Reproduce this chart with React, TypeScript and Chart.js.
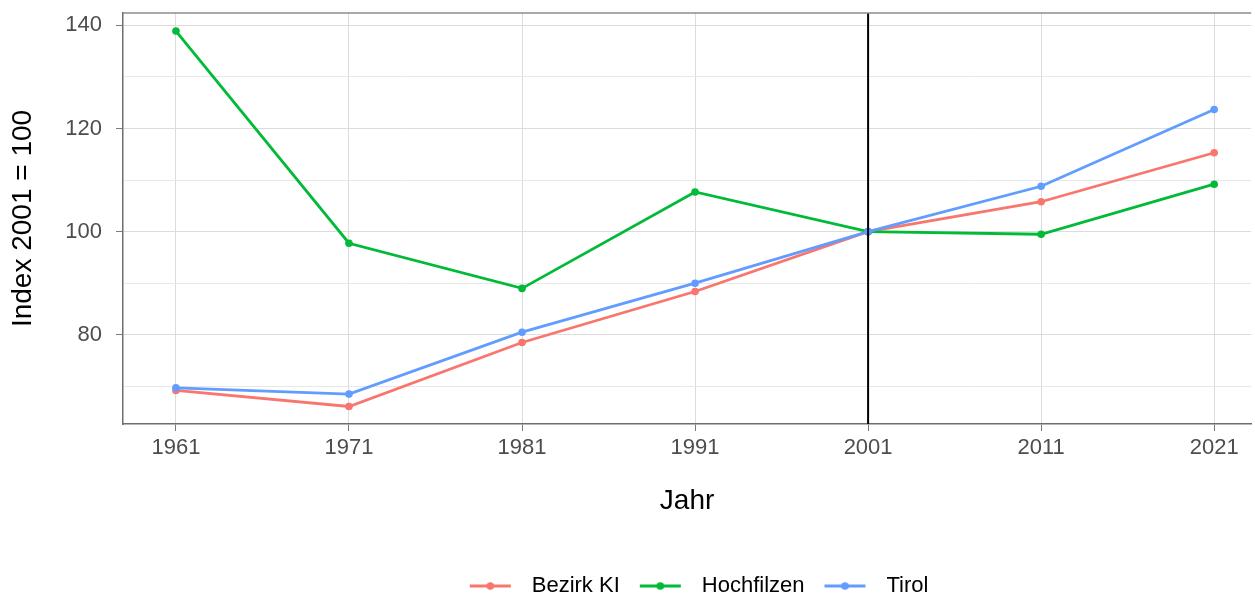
import React, { useEffect, useRef } from "react";
import { Chart, registerables } from "chart.js";

Chart.register(...registerables);

const YEARS = [1961, 1971, 1981, 1991, 2001, 2011, 2021];
const BEZIRK_KI = [69.2, 66.1, 78.5, 88.4, 100, 105.8, 115.3];
const HOCHFILZEN = [138.9, 97.75, 89.0, 107.7, 100, 99.5, 109.2];
const TIROL = [69.7, 68.5, 80.5, 90.0, 100, 108.8, 123.7];
const SERIES_NAMES = ["Bezirk KI", "Hochfilzen", "Tirol"];
const SERIES_COLORS = ["#F8766D", "#00BA38", "#619CFF"];
const Y_TICKS = [70, 80, 90, 100, 110, 120, 130, 140];
const REFERENCE_YEAR = 2001;
const Y_MIN = 62.7;
const Y_MAX = 142.4;
const X_MIN = 1957.94;
const X_MAX = 2023.14;

const FONT = "'Liberation Sans', Arial, sans-serif";

function legendImage(color: string): HTMLCanvasElement {
  const c = document.createElement("canvas");
  c.width = 71;
  c.height = 12;
  const g = c.getContext("2d")!;
  g.strokeStyle = color;
  g.lineWidth = 2.8;
  g.beginPath();
  g.moveTo(20, 6);
  g.lineTo(61, 6);
  g.stroke();
  g.fillStyle = color;
  g.beginPath();
  g.arc(40.5, 6, 3.8, 0, Math.PI * 2);
  g.fill();
  return c;
}

const topBorder = {
  id: "topBorder",
  afterDatasetsDraw(chart: any) {
    const { ctx, chartArea } = chart;
    ctx.save();
    ctx.strokeStyle = "#8C8C8C";
    ctx.lineWidth = 1.5;
    ctx.beginPath();
    ctx.moveTo(chartArea.left, chartArea.top);
    ctx.lineTo(chartArea.right, chartArea.top);
    ctx.stroke();
    ctx.restore();
  },
};

const legendShift = {
  id: "legendShift",
  afterLayout(chart: any) {
    if (chart.legend) {
      chart.legend.left += 2;
      chart.legend.right += 2;
    }
  },
};

export default function App() {
  const ref = useRef<HTMLCanvasElement | null>(null);

  useEffect(() => {
    document.body.style.margin = "0";
    const series = [BEZIRK_KI, HOCHFILZEN, TIROL];
    const datasets: any[] = series.map((vals, i) => ({
      label: SERIES_NAMES[i],
      data: YEARS.map((y, j) => ({ x: y, y: vals[j] })),
      borderColor: SERIES_COLORS[i],
      backgroundColor: SERIES_COLORS[i],
      borderWidth: 2.8,
      pointRadius: 3.8,
      pointBorderWidth: 0,
      pointHoverRadius: 3.8,
      order: 3 - i,
      tension: 0,
    }));
    datasets.push({
      label: "ref",
      data: [
        { x: REFERENCE_YEAR, y: Y_MIN },
        { x: REFERENCE_YEAR, y: Y_MAX },
      ],
      borderColor: "#000000",
      borderWidth: 2,
      pointRadius: 0,
      order: 0,
    });

    const images = SERIES_COLORS.map(legendImage);

    const chart = new Chart(ref.current!, {
      type: "line",
      data: { datasets },
      plugins: [topBorder, legendShift],
      options: {
        animation: false,
        responsive: false,
        maintainAspectRatio: false,
        layout: { padding: { top: 0, left: 0, right: 0, bottom: -11 } },
        plugins: {
          tooltip: { enabled: false },
          legend: {
            position: "bottom",
            fullSize: false,
            labels: {
              usePointStyle: true,
              pointStyleWidth: 71,
              padding: 0,
              color: "#000000",
              font: { family: FONT, size: 22 },
              generateLabels: () =>
                SERIES_NAMES.map((name, i) => ({
                  text: name,
                  datasetIndex: i,
                  pointStyle: images[i],
                  fillStyle: SERIES_COLORS[i],
                  strokeStyle: SERIES_COLORS[i],
                  lineWidth: 0,
                  hidden: false,
                  fontColor: "#000000",
                })),
            },
          },
        },
        scales: {
          x: {
            type: "linear",
            min: X_MIN,
            max: X_MAX,
            afterBuildTicks: (s: any) => {
              s.ticks = YEARS.map((v) => ({ value: v }));
            },
            afterFit: (s: any) => {
              s.paddingLeft = 0;
              s.paddingRight = 0;
            },
            ticks: {
              color: "#4D4D4D",
              font: { family: FONT, size: 22 },
              padding: 4,
              maxRotation: 0,
              autoSkip: false,
              callback: (v: any) => String(v),
            },
            grid: {
              color: "#DCDCDC",
              lineWidth: 1,
              tickLength: 7,
              tickColor: "#7A7A7A",
            },
            border: { display: true, color: "#6E6E6E", width: 1.5 },
            title: {
              display: true,
              text: "Jahr",
              color: "#000000",
              font: { family: FONT, size: 28 },
              padding: { top: 19, bottom: 57 },
            },
          },
          y: {
            type: "linear",
            min: Y_MIN,
            max: Y_MAX,
            afterBuildTicks: (s: any) => {
              s.ticks = Y_TICKS.map((v) => ({ value: v }));
            },
            afterFit: (s: any) => {
              s.width = 123;
              s.paddingTop = 13;
              s.paddingBottom = 0;
            },
            ticks: {
              color: "#4D4D4D",
              font: { family: FONT, size: 22 },
              padding: 14,
              callback: (v: any) => (Number(v) % 20 === 0 ? String(v) : ""),
            },
            grid: {
              color: (c: any) => (c.tick && c.tick.value % 20 === 0 ? "#DCDCDC" : "#E8E8E8"),
              lineWidth: 1,
              tickLength: 7,
              tickColor: (c: any) => (c.tick && c.tick.value % 20 === 0 ? "#7A7A7A" : "rgba(0,0,0,0)"),
            },
            border: { display: true, color: "#6E6E6E", width: 1.5 },
            title: {
              display: true,
              text: "Index 2001 = 100",
              color: "#000000",
              font: { family: FONT, size: 28 },
              padding: { top: 6, bottom: 0 },
            },
          },
        },
      },
    } as any);
    return () => chart.destroy();
  }, []);

  return (
    <div style={{ width: 1255, height: 596, position: "relative" }}>
      <canvas ref={ref} width={1255} height={596} style={{ display: "block" }} />
    </div>
  );
}
